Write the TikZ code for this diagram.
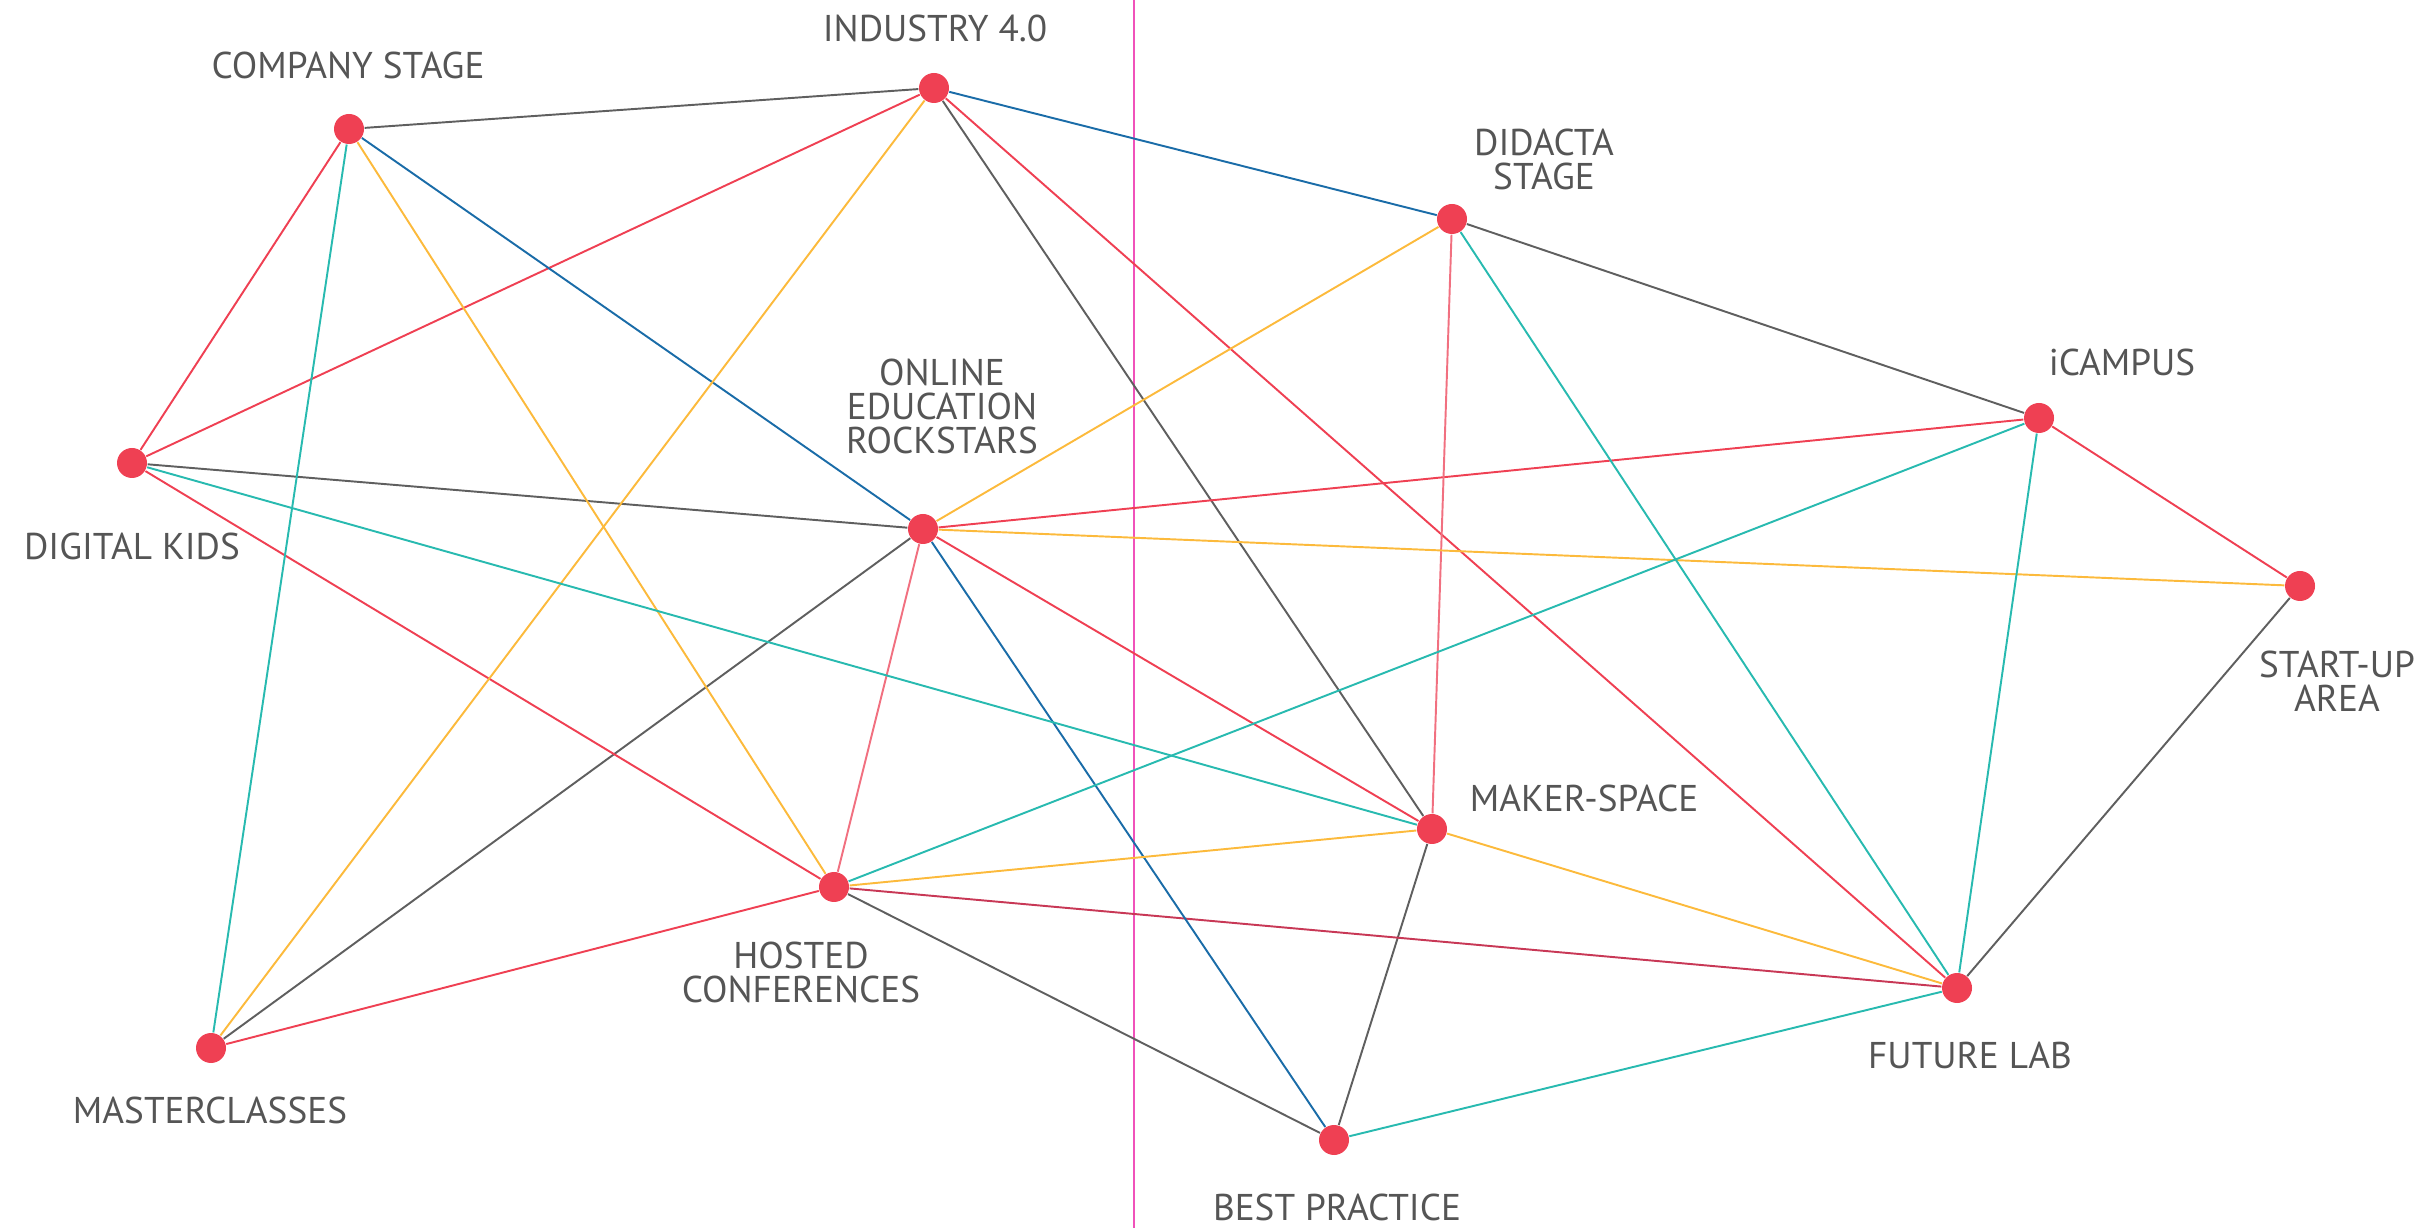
\documentclass[tikz,border=0pt]{standalone}
\usepackage{fontspec}
\setmainfont{PT Sans}
\usetikzlibrary{backgrounds}
\definecolor{hubred}{RGB}{239,64,83}
\definecolor{linkgray}{RGB}{95,95,95}
\definecolor{linkblue}{RGB}{26,108,168}
\definecolor{linkyellow}{RGB}{252,186,60}
\definecolor{linkteal}{RGB}{40,186,176}
\definecolor{linkrose}{RGB}{241,112,128}
\definecolor{linkcrimson}{RGB}{200,56,86}
\definecolor{dividerpink}{RGB}{240,82,186}
\definecolor{labelgray}{RGB}{85,85,85}

\begin{document}
\begin{tikzpicture}[line cap=round, line join=round,
  hub/.style={circle,fill=hubred,draw=none,inner sep=0pt,minimum size=0.30cm},
  tag/.style={anchor=base,align=center,text=labelgray,inner sep=0pt,
    font=\fontsize{10.6}{9.7}\selectfont},
  link/.style={line width=0.55pt}]
\useasboundingbox (0,0) rectangle (24.22,-12.28);

% ---------- hubs ----------
\node[hub] (industry) at (9.34,-0.88) {};
\node[hub] (company)  at (3.49,-1.29) {};
\node[hub] (didacta)  at (14.52,-2.19) {};
\node[hub] (icampus)  at (20.39,-4.18) {};
\node[hub] (kids)     at (1.32,-4.63) {};
\node[hub] (online)   at (9.23,-5.29) {};
\node[hub] (startup)  at (23.00,-5.86) {};
\node[hub] (maker)    at (14.32,-8.29) {};
\node[hub] (hosted)   at (8.34,-8.87) {};
\node[hub] (future)   at (19.57,-9.88) {};
\node[hub] (master)   at (2.11,-10.48) {};
\node[hub] (best)     at (13.34,-11.40) {};

% ---------- labels (base = last line) ----------
\node[tag] (industry-txt) at (9.35,-0.42) {INDUSTRY 4.0};
\node[tag] (company-txt)  at (3.48,-0.79) {COMPANY STAGE};
\node[tag] (didacta-txt)  at (15.44,-1.90) {DIDACTA\\STAGE};
\node[tag] (icampus-txt)  at (21.22,-3.76) {iCAMPUS};
\node[tag] (online-txt)   at (9.42,-4.54) {ONLINE\\EDUCATION\\ROCKSTARS};
\node[tag] (kids-txt)     at (1.32,-5.60) {DIGITAL KIDS};
\node[tag] (startup-txt)  at (23.37,-7.12) {START-UP\\AREA};
\node[tag] (maker-txt)    at (15.84,-8.12) {MAKER-SPACE};
\node[tag] (hosted-txt)   at (8.01,-10.03) {HOSTED\\CONFERENCES};
\node[tag] (future-txt)   at (19.70,-10.68) {FUTURE LAB};
\node[tag] (master-txt)   at (2.10,-11.23) {MASTERCLASSES};
\node[tag] (best-txt)     at (13.37,-12.20) {BEST PRACTICE};

\begin{scope}[on background layer]
  % divider
  \coordinate (divtop) at (11.34,0);
  \coordinate (divbot) at (11.34,-12.28);
  \draw[dividerpink,line width=0.7pt] (divtop) -- (divbot);

  % gray links
  \draw[link,linkgray] (company) -- (industry);
  \draw[link,linkgray] (industry) -- (maker);
  \draw[link,linkgray] (didacta) -- (icampus);
  \draw[link,linkgray] (startup) -- (future);
  \draw[link,linkgray] (kids) -- (online);
  \draw[link,linkgray] (online) -- (master);
  \draw[link,linkgray] (hosted) -- (best);
  \draw[link,linkgray] (maker) -- (best);

  % red links
  \draw[link,hubred] (company) -- (kids);
  \draw[link,hubred] (industry) -- (kids);
  \draw[link,hubred] (industry) -- (future);
  \draw[link,hubred] (icampus) -- (online);
  \draw[link,hubred] (icampus) -- (startup);
  \draw[link,hubred] (kids) -- (hosted);
  \draw[link,hubred] (online) -- (maker);
  \draw[link,hubred] (hosted) -- (master);
  \draw[link,linkrose] (didacta) -- (maker);
  \draw[link,linkrose] (online) -- (hosted);
  \draw[link,linkcrimson] (hosted) -- (future);

  % blue links
  \draw[link,linkblue] (company) -- (online);
  \draw[link,linkblue] (industry) -- (didacta);
  \draw[link,linkblue] (online) -- (best);

  % yellow links
  \draw[link,linkyellow] (company) -- (hosted);
  \draw[link,linkyellow] (industry) -- (master);
  \draw[link,linkyellow] (didacta) -- (online);
  \draw[link,linkyellow] (startup) -- (online);
  \draw[link,linkyellow] (hosted) -- (maker);
  \draw[link,linkyellow] (maker) -- (future);

  % teal links
  \draw[link,linkteal] (company) -- (master);
  \draw[link,linkteal] (didacta) -- (future);
  \draw[link,linkteal] (icampus) -- (hosted);
  \draw[link,linkteal] (icampus) -- (future);
  \draw[link,linkteal] (kids) -- (maker);
  \draw[link,linkteal] (best) -- (future);
\end{scope}

\end{tikzpicture}
\end{document}
